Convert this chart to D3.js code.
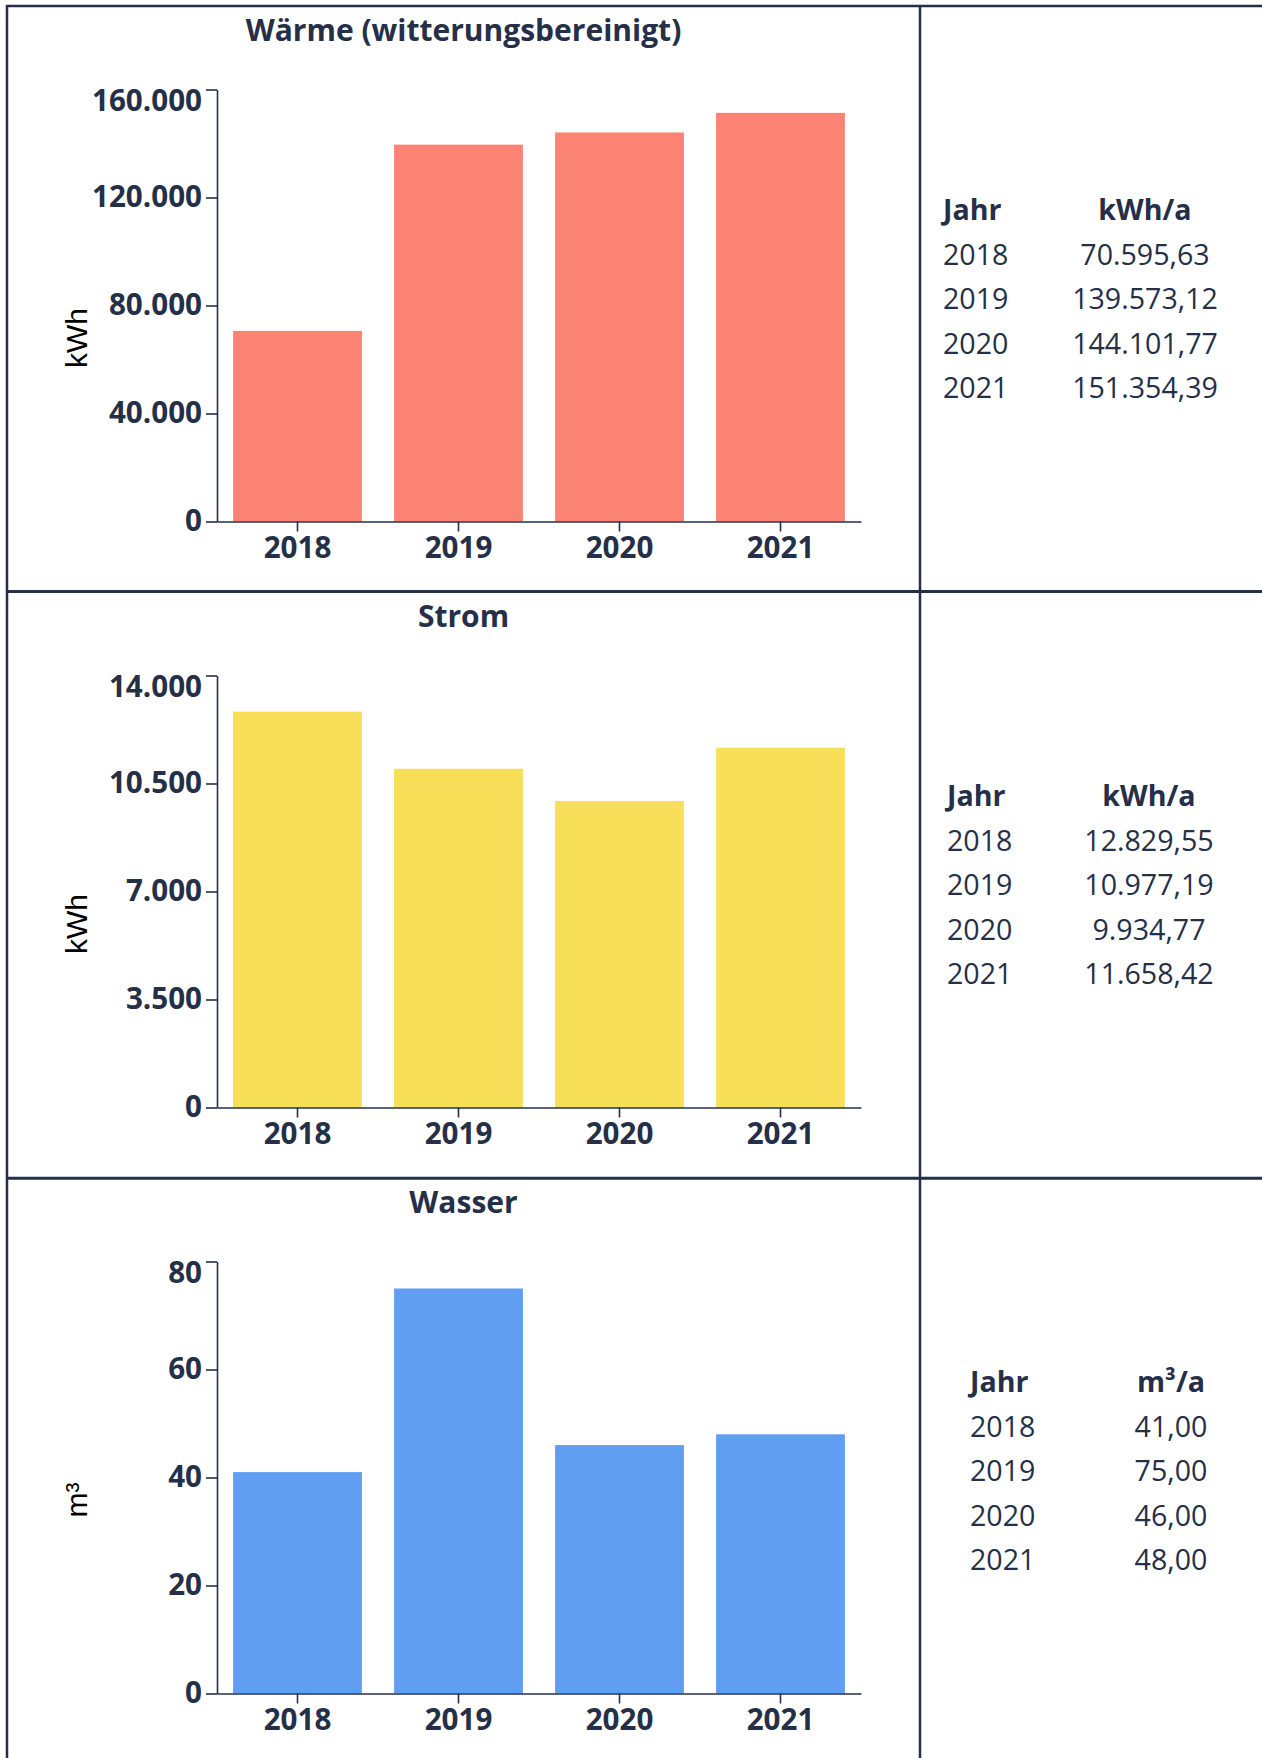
<!DOCTYPE html>
<html>
<head>
<meta charset="utf-8">
<script src="https://cdn.jsdelivr.net/npm/d3@7"></script>
<style>
  html, body { margin: 0; padding: 0; background: #ffffff; }
  svg { display: block; }
</style>
</head>
<body>
<svg id="chart" width="1262" height="1758"></svg>
<script>
// Verbrauchswerte je Jahr
const years = ["2018", "2019", "2020", "2021"];
const waermeValues = [70595.63, 139573.12, 144101.77, 151354.39];
const stromValues = [12829.55, 10977.19, 9934.77, 11658.42];
const wasserValues = [41, 75, 46, 48];

// Achsenteilung
const waermeTicks = [0, 40000, 80000, 120000, 160000];
const stromTicks = [0, 3500, 7000, 10500, 14000];
const wasserTicks = [0, 20, 40, 60, 80];

// Beschriftungen
const titles = ["Wärme (witterungsbereinigt)", "Strom", "Wasser"];
const axisUnits = ["kWh", "kWh", "m³"];
const tableUnits = ["kWh/a", "kWh/a", "m³/a"];
const yearHeader = "Jahr";

const INK = "#252f48";
const FONT = "'Open Sans', 'Noto Sans', sans-serif";

const de = d3.formatLocale({ decimal: ",", thousands: ".", grouping: [3], currency: ["", " €"] });
const fmtTick = de.format(",.0f");
const fmtValue = de.format(",.2f");

const panels = [
  { title: titles[0], values: waermeValues, ticks: waermeTicks, unit: axisUnits[0], tableUnit: tableUnits[0],
    color: "#fa8373", top: 6, unitY: 338, yearX: 943, valueX: 1145 },
  { title: titles[1], values: stromValues, ticks: stromTicks, unit: axisUnits[1], tableUnit: tableUnits[1],
    color: "#f7df5a", top: 592, unitY: 924, yearX: 947, valueX: 1149 },
  { title: titles[2], values: wasserValues, ticks: wasserTicks, unit: axisUnits[2], tableUnit: tableUnits[2],
    color: "#619ef2", top: 1178, unitY: 1500, yearX: 970, valueX: 1171 }
];

const svg = d3.select("#chart");

const cellLeft = 7, divX = 920, W = 1262, H = 1758;
const plotLeft = 217, plotRight = 861;

panels.forEach(p => {
  const g = svg.append("g");
  const yTop = p.top + 83.5, yBase = p.top + 515.5;

  const x = d3.scaleBand().domain(years).range([plotLeft, plotRight]).paddingInner(0.2).paddingOuter(0.1);
  const y = d3.scaleLinear().domain([0, d3.max(p.ticks)]).range([yBase, yTop]);

  // Titel
  g.append("text")
    .attr("x", (cellLeft + divX) / 2).attr("y", p.top + 35)
    .attr("text-anchor", "middle")
    .attr("font-family", FONT).attr("font-weight", 700).attr("font-size", 30)
    .attr("fill", INK).text(p.title);

  // Balken
  g.selectAll("rect.bar").data(years.map((yr, i) => ({ yr, v: p.values[i] })))
    .join("rect").attr("class", "bar")
    .attr("x", d => x(d.yr)).attr("width", x.bandwidth())
    .attr("y", d => y(d.v)).attr("height", d => y(0) - y(d.v))
    .attr("fill", p.color);

  // y-Achse
  const yAxis = g.append("g").attr("transform", `translate(${plotLeft},0)`)
    .call(d3.axisLeft(y).tickValues(p.ticks).tickFormat(fmtTick).tickSize(11).tickSizeOuter(0).tickPadding(4));
  // x-Achse
  const xAxis = g.append("g").attr("transform", `translate(0,${yBase})`)
    .call(d3.axisBottom(x).tickSize(10).tickSizeOuter(0).tickPadding(5));

  [yAxis, xAxis].forEach(a => {
    a.selectAll("path.domain").attr("stroke", INK).attr("stroke-width", 1.6);
    a.selectAll(".tick line").attr("stroke", INK).attr("stroke-width", 1.6);
    a.selectAll(".tick text")
      .attr("font-family", FONT).attr("font-weight", 700).attr("font-size", 29.6).attr("fill", INK);
  });
  // oberste Beschriftung bündig unter dem Achsenende
  yAxis.selectAll(".tick").filter(d => d === d3.max(p.ticks)).select("text").attr("dy", "0.72em");

  // Einheit der y-Achse
  g.append("text")
    .attr("transform", `translate(87,${p.unitY}) rotate(-90)`)
    .attr("text-anchor", "middle")
    .attr("font-family", "'Liberation Sans', Arial, sans-serif").attr("font-size", 30)
    .attr("fill", "#000").text(p.unit);

  // Tabelle
  const headY = p.top + 214;
  const rowStep = 44.5;
  const t = g.append("g").attr("font-family", FONT).attr("font-size", 28.6).attr("fill", INK);
  t.append("text").attr("x", p.yearX).attr("y", headY).attr("font-weight", 700).text(yearHeader);
  t.append("text").attr("x", p.valueX).attr("y", headY).attr("font-weight", 700)
    .attr("text-anchor", "middle").text(p.tableUnit);
  years.forEach((yr, i) => {
    const ry = headY + 44.5 + i * rowStep;
    t.append("text").attr("x", p.yearX).attr("y", ry).text(yr);
    t.append("text").attr("x", p.valueX).attr("y", ry).attr("text-anchor", "middle").text(fmtValue(p.values[i]));
  });
});

// Tabellenraster
const grid = svg.append("g").attr("stroke", INK);
grid.append("line").attr("x1", 6).attr("x2", W).attr("y1", 6).attr("y2", 6).attr("stroke-width", 2.5);
grid.append("line").attr("x1", cellLeft).attr("x2", cellLeft).attr("y1", 5).attr("y2", H).attr("stroke-width", 2.5);
grid.append("line").attr("x1", divX).attr("x2", divX).attr("y1", 5).attr("y2", H).attr("stroke-width", 2.5);
[591.5, 1178.3].forEach(yy => {
  grid.append("line").attr("x1", 6).attr("x2", W).attr("y1", yy).attr("y2", yy).attr("stroke-width", 3);
});
</script>
</body>
</html>
